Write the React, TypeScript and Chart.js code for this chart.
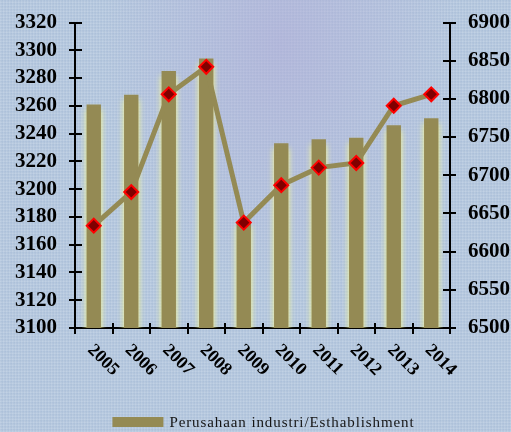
import React, { useEffect, useRef } from "react";
import { Chart, registerables } from "chart.js";

Chart.register(...registerables);

const years = ["2005", "2006", "2007", "2008", "2009", "2010", "2011", "2012", "2013", "2014"];
const establishments = [3261, 3268, 3285, 3294, 3177, 3233, 3236, 3237, 3246, 3251];
const trendValues = [6634, 6678, 6806, 6842, 6638, 6687, 6710, 6716, 6791, 6806];

const leftMin = 3100;
const leftMax = 3320;
const leftStep = 20;
const rightMin = 6500;
const rightMax = 6900;
const rightStep = 50;

const OLIVE = "#948a54";
const SERIF = "'Liberation Serif', 'Times New Roman', serif";

// Soft yellow halo around the bars
const barGlow = {
  id: "barGlow",
  beforeDatasetDraw(chart: any, args: any) {
    if (args.index !== 0) return;
    const ctx = chart.ctx;
    ctx.save();
    ctx.shadowColor = "rgba(250, 250, 140, 1)";
    ctx.shadowBlur = 6;
    ctx.shadowOffsetY = 5;
  },
  afterDatasetDraw(chart: any, args: any) {
    if (args.index !== 0) return;
    chart.ctx.restore();
  },
};

// Tick marks that cross the axis lines, diagonal year labels and the legend entry
const axisDecor = {
  id: "axisDecor",
  afterDraw(chart: any) {
    const ctx = chart.ctx;
    const x = chart.scales.x;
    const y = chart.scales.y;
    const y1 = chart.scales.y1;
    const area = chart.chartArea;
    ctx.save();
    ctx.strokeStyle = "#000";
    ctx.lineWidth = 2;
    ctx.beginPath();
    y.ticks.forEach((t: any) => {
      const py = Math.round(y.getPixelForValue(t.value));
      ctx.moveTo(area.left, py);
      ctx.lineTo(area.left + 7, py);
    });
    y1.ticks.forEach((t: any) => {
      const py = Math.round(y1.getPixelForValue(t.value));
      ctx.moveTo(area.right, py);
      ctx.lineTo(area.right - 7, py);
    });
    for (let i = 0; i <= years.length; i++) {
      const px = Math.round(x.getPixelForValue(i - 0.5));
      ctx.moveTo(px, area.bottom);
      ctx.lineTo(px, area.bottom - 5);
    }
    ctx.stroke();

    ctx.fillStyle = "#000";
    ctx.font = `bold 18px ${SERIF}`;
    ctx.textAlign = "left";
    ctx.textBaseline = "top";
    years.forEach((label, i) => {
      const px = x.getPixelForValue(i);
      ctx.save();
      ctx.translate(px + 3, area.bottom + 13);
      ctx.rotate(Math.PI / 4);
      ctx.fillText(label, 0, 0);
      ctx.restore();
    });

    // legend: one entry for the bar series
    const ds = chart.data.datasets[0];
    ctx.font = `15px ${SERIF}`;
    (ctx as any).letterSpacing = "0.9px";
    const textW = ctx.measureText(ds.label).width;
    const boxW = 51;
    const boxH = 10;
    const gap = 6;
    const total = boxW + gap + textW;
    const cx = (area.left + area.right) / 2 + 1;
    const startX = cx - total / 2;
    const cy = chart.height - 10;
    ctx.fillStyle = ds.backgroundColor;
    ctx.fillRect(startX, cy - boxH / 2, boxW, boxH);
    ctx.fillStyle = "#151515";
    ctx.textBaseline = "middle";
    ctx.fillText(ds.label, startX + boxW + gap, cy + 1);
    ctx.restore();
  },
};

const plainNumber = (v: any) => String(v);

const tickFont = { family: SERIF, size: 21, weight: "bold", lineHeight: 1 };

export default function App() {
  const canvasRef = useRef<HTMLCanvasElement | null>(null);

  useEffect(() => {
    if (!canvasRef.current) return;
    const chart = new Chart(canvasRef.current, {
      type: "bar",
      data: {
        labels: years,
        datasets: [
          {
            type: "bar",
            label: "Perusahaan industri/Esthablishment",
            data: establishments,
            backgroundColor: OLIVE,
            borderWidth: 0,
            yAxisID: "y",
            categoryPercentage: 0.8,
            barPercentage: 0.48,
            order: 1,
          },
          {
            type: "line",
            label: "Tren",
            data: trendValues,
            borderColor: OLIVE,
            borderWidth: 5,
            backgroundColor: "#800000",
            pointStyle: "rectRot",
            pointRadius: 7,
            pointBorderColor: "#ff0000",
            pointBorderWidth: 2,
            pointBackgroundColor: "#800000",
            tension: 0,
            yAxisID: "y1",
            order: 0,
          } as any,
        ],
      },
      options: {
        animation: false,
        responsive: true,
        maintainAspectRatio: false,
        layout: { padding: { left: 3, right: -11, top: 6, bottom: 0 } },
        plugins: {
          tooltip: { enabled: false },
          legend: { display: false },
        },
        scales: {
          x: {
            offset: true,
            grid: {
              offset: true,
              drawOnChartArea: false,
              drawTicks: true,
              tickLength: 6,
              color: "#000",
              lineWidth: 2,
            },
            border: { display: true, color: "#000", width: 2 },
            ticks: { display: false },
            afterFit: (scale: any) => {
              scale.height = 104;
            },
          },
          y: {
            position: "left",
            min: leftMin,
            max: leftMax,
            grid: {
              drawOnChartArea: false,
              tickLength: 6,
              color: "#000",
              lineWidth: 2,
            },
            border: { display: true, color: "#000", width: 2 },
            ticks: {
              stepSize: leftStep,
              autoSkip: false,
              padding: 12,
              color: "#000",
              callback: plainNumber,
              font: tickFont,
            },
          },
          y1: {
            position: "right",
            min: rightMin,
            max: rightMax,
            grid: {
              drawOnChartArea: false,
              tickLength: 6,
              color: "#000",
              lineWidth: 2,
            },
            border: { display: true, color: "#000", width: 2 },
            ticks: {
              stepSize: rightStep,
              autoSkip: false,
              padding: 12,
              color: "#000",
              callback: plainNumber,
              font: tickFont,
            },
          },
        },
      } as any,
      plugins: [barGlow, axisDecor],
    });
    return () => chart.destroy();
  }, []);

  return (
    <div
      style={{
        position: "fixed",
        left: 0,
        top: 0,
        width: 511,
        height: 432,
        backgroundColor: "#b2c6de",
        backgroundImage: [
          "radial-gradient(ellipse at 55% 10%, rgba(175,170,215,0.55), rgba(175,170,215,0) 45%)",
          "repeating-linear-gradient(0deg, rgba(255,255,255,0.10) 0px, rgba(255,255,255,0.10) 1px, rgba(90,110,150,0.06) 2px, rgba(90,110,150,0.0) 3px)",
          "repeating-linear-gradient(90deg, rgba(255,255,255,0.10) 0px, rgba(255,255,255,0.10) 1px, rgba(90,110,150,0.06) 2px, rgba(90,110,150,0.0) 3px)",
        ].join(", "),
      }}
    >
      <canvas ref={canvasRef} />
    </div>
  );
}
